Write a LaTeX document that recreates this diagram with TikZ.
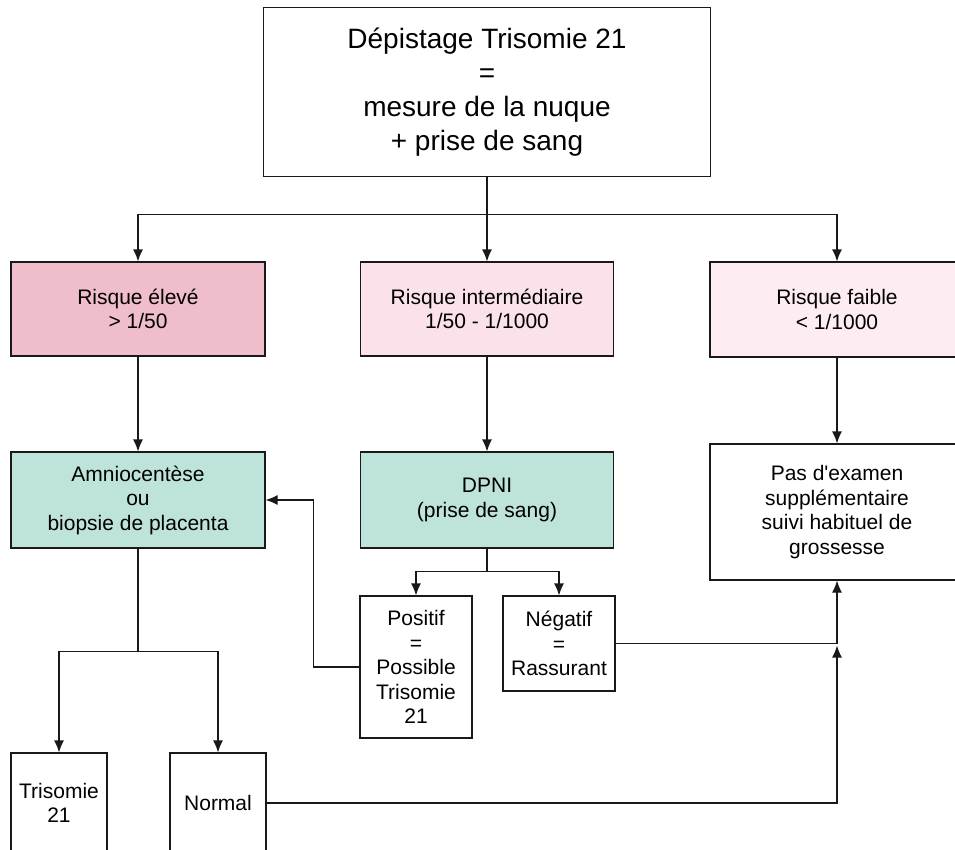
\documentclass[tikz,border=0pt]{standalone}
\usepackage{fontspec}
\setmainfont{Liberation Sans}
\usepackage{tikz}
\usetikzlibrary{arrows.meta}
\definecolor{risqueHaut}{RGB}{240,189,203}
\definecolor{risqueMoyen}{RGB}{251,225,233}
\definecolor{risqueBas}{RGB}{253,236,241}
\definecolor{examenVert}{RGB}{190,227,218}
\definecolor{traitGris}{RGB}{25,25,25}

\begin{document}
\begin{tikzpicture}[x=1pt,y=-1pt,
    boite/.style={draw=traitGris, line width=1.2pt, rectangle, align=center, inner sep=2pt,
      font=\fontsize{21}{24.5}\selectfont},
    fleche/.style={draw=traitGris, line width=1.2pt, -{Latex[length=12pt,width=10pt]}},
    trait/.style={draw=traitGris, line width=1.2pt}]
      \path[use as bounding box] (0,0) rectangle (955,849);
      \clip (0,0) rectangle (955,849);
      \fill[white] (0,0) rectangle (955,849);

      % depistage
      \node[boite, minimum width=447pt, minimum height=169pt, font=\fontsize{28}{34}\selectfont] (depistage) at (487,92)
        {Dépistage Trisomie 21\\=\\mesure de la nuque\\+ prise de sang};

      % niveaux de risque
      \node[boite, fill=risqueHaut, minimum width=254pt, minimum height=94pt] (eleve) at (138,309) {Risque élevé\\> 1/50};
      \node[boite, fill=risqueMoyen, minimum width=253pt, minimum height=94pt] (inter) at (487,309) {Risque intermédiaire\\1/50 - 1/1000};
      \node[boite, fill=risqueBas, minimum width=254pt, minimum height=95pt] (faible) at (837,309.5) {Risque faible\\< 1/1000};

      % examens
      \node[boite, fill=examenVert, minimum width=254pt, minimum height=96pt] (amnio) at (138,500) {Amniocentèse\\ou\\biopsie de placenta};
      \node[boite, fill=examenVert, minimum width=253pt, minimum height=96pt] (dpni) at (487,500) {DPNI\\(prise de sang)};
      \node[boite, minimum width=254pt, minimum height=136pt] (rien) at (837,512)
        {Pas d\textquotesingle examen\\supplémentaire\\suivi habituel de\\grossesse};

      % resultats DPNI
      \node[boite, minimum width=112pt, minimum height=142pt] (positif) at (416,667) {Positif\\=\\Possible\\Trisomie\\21};
      \node[boite, minimum width=112pt, minimum height=95pt] (negatif) at (559,643.5) {Négatif\\=\\Rassurant};

      % resultats amniocentese
      \node[boite, minimum width=96pt, minimum height=100pt] (trisomie) at (59,803) {Trisomie\\21};
      \node[boite, minimum width=96pt, minimum height=100pt] (normal) at (218,803) {Normal};

      % liaisons
      \draw[fleche] (depistage.south) -- (inter.north);
      \draw[fleche] (depistage.south) -- ++(0,37) -| (eleve.north);
      \draw[fleche] (depistage.south) -- ++(0,37) -| (faible.north);
      \draw[fleche] (eleve.south) -- (amnio.north);
      \draw[fleche] (inter.south) -- (dpni.north);
      \draw[fleche] (faible.south) -- (rien.north);

      \draw[fleche] (amnio.south) -- ++(0,103) -| (trisomie.north);
      \draw[fleche] (amnio.south) -- ++(0,103) -| (normal.north);
      \draw[fleche] (dpni.south) -- ++(0,23) -| (positif.north);
      \draw[fleche] (dpni.south) -- ++(0,23) -| (negatif.north);

      \draw[fleche] (positif.west) -- ++(-46,0) |- (amnio.east);
      \coordinate (jonction) at (rien.south |- negatif.east);
      \draw[fleche] (negatif.east) -| (rien.south);
      \draw[fleche] (normal.east) -| ([yshift=-2pt]jonction);
    \end{tikzpicture}
\end{document}
